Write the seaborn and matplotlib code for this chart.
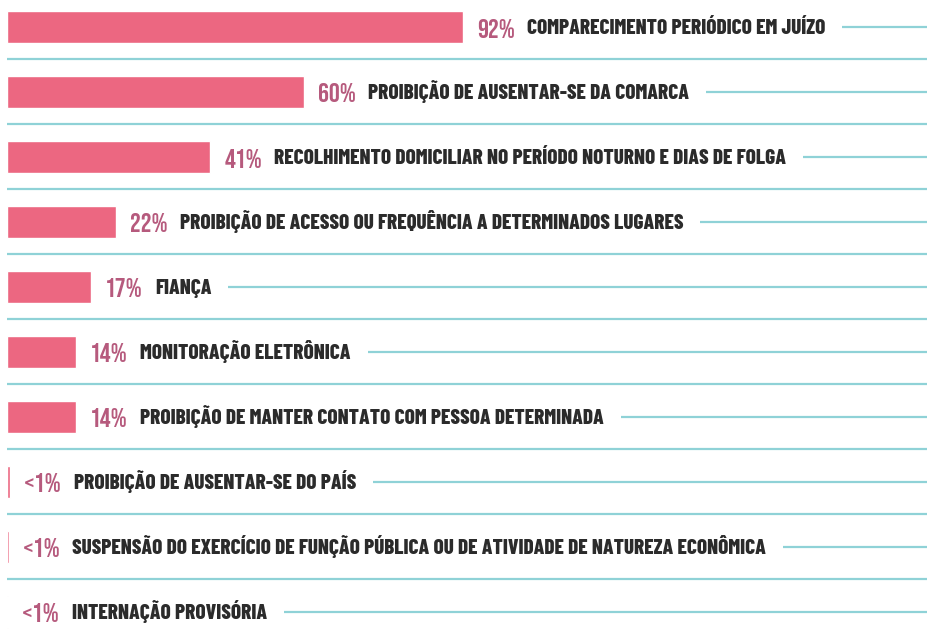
import matplotlib
matplotlib.use("Agg")
import matplotlib.pyplot as plt
import matplotlib.transforms as mtransforms
import seaborn as sns
import pandas as pd

categories = [
    "COMPARECIMENTO PERIÓDICO EM JUÍZO",
    "PROIBIÇÃO DE AUSENTAR-SE DA COMARCA",
    "RECOLHIMENTO DOMICILIAR NO PERÍODO NOTURNO E DIAS DE FOLGA",
    "PROIBIÇÃO DE ACESSO OU FREQUÊNCIA A DETERMINADOS LUGARES",
    "FIANÇA",
    "MONITORAÇÃO ELETRÔNICA",
    "PROIBIÇÃO DE MANTER CONTATO COM PESSOA DETERMINADA",
    "PROIBIÇÃO DE AUSENTAR-SE DO PAÍS",
    "SUSPENSÃO DO EXERCÍCIO DE FUNÇÃO PÚBLICA OU DE ATIVIDADE DE NATUREZA ECONÔMICA",
    "INTERNAÇÃO PROVISÓRIA",
]
values = [92, 60, 41, 22, 17, 14, 14, 0.6, 0.35, 0.2]
value_labels = ["92%", "60%", "41%", "22%", "17%", "14%", "14%", "<1%", "<1%", "<1%"]

BAR = "#ec6781"
PCT = "#b65a7d"
TXT = "#2b2b2b"
TEAL = "#8fd2d7"

df = pd.DataFrame({"medida": categories, "pct": values})

sns.set_style("white")
fig = plt.figure(figsize=(9.28, 6.37), dpi=100)
ax = fig.add_axes([0, 0, 1, 1])

sns.barplot(data=df, x="pct", y="medida", orient="h", color=BAR,
            saturation=1, width=0.49, ax=ax, zorder=3)

# pixel-like layout: 4.955 px per percentage point, rows every 65 px
ax.set_xlim(-7 / 4.955, (928 - 7) / 4.955)
ax.set_ylim((637 - 27) / 65, -27 / 65)
ax.set_axis_off()

x_end = ax.get_xlim()[1]
x_start = ax.get_xlim()[0] + 7 / 4.955

# thin separators between rows
for i in range(len(categories) - 1):
    ax.plot([x_start, x_end], [i + 0.5, i + 0.5], color=TEAL, lw=1.6,
            solid_capstyle="butt", zorder=1)

pct_font = dict(family=["Bebas Neue", "League Gothic", "Oswald", "Antonio",
                        "Saira ExtraCondensed", "Fira Sans Extra Condensed", "DejaVu Sans"],
                weight=600, size=19.5)
cat_font = dict(family=["Barlow Condensed", "DejaVu Sans"], weight=800, size=15.2)

pct_texts = []
for i, (v, lab) in enumerate(zip(values, value_labels)):
    tr = mtransforms.offset_copy(ax.transData, fig=fig, x=14, y=-10.5, units="dots")
    t = ax.text(v, i, lab, transform=tr, ha="left", va="baseline", color=PCT, **pct_font)
    pct_texts.append(t)

fig.canvas.draw()
renderer = fig.canvas.get_renderer()
inv = ax.transData.inverted()

cat_texts = []
for i, (t, cat) in enumerate(zip(pct_texts, categories)):
    bb = t.get_window_extent(renderer)
    x_data = inv.transform((bb.x1 + 12, 0))[0]
    tr = mtransforms.offset_copy(ax.transData, fig=fig, x=0, y=-7.3, units="dots")
    c = ax.text(x_data, i, cat, transform=tr, ha="left", va="baseline", color=TXT, **cat_font)
    cat_texts.append(c)

fig.canvas.draw()
for i, c in enumerate(cat_texts):
    bb = c.get_window_extent(renderer)
    x0 = inv.transform((bb.x1 + 17, 0))[0]
    ax.plot([x0, x_end], [i, i], color=TEAL, lw=1.6, solid_capstyle="butt", zorder=1)

fig.savefig("out.png", dpi=100)
